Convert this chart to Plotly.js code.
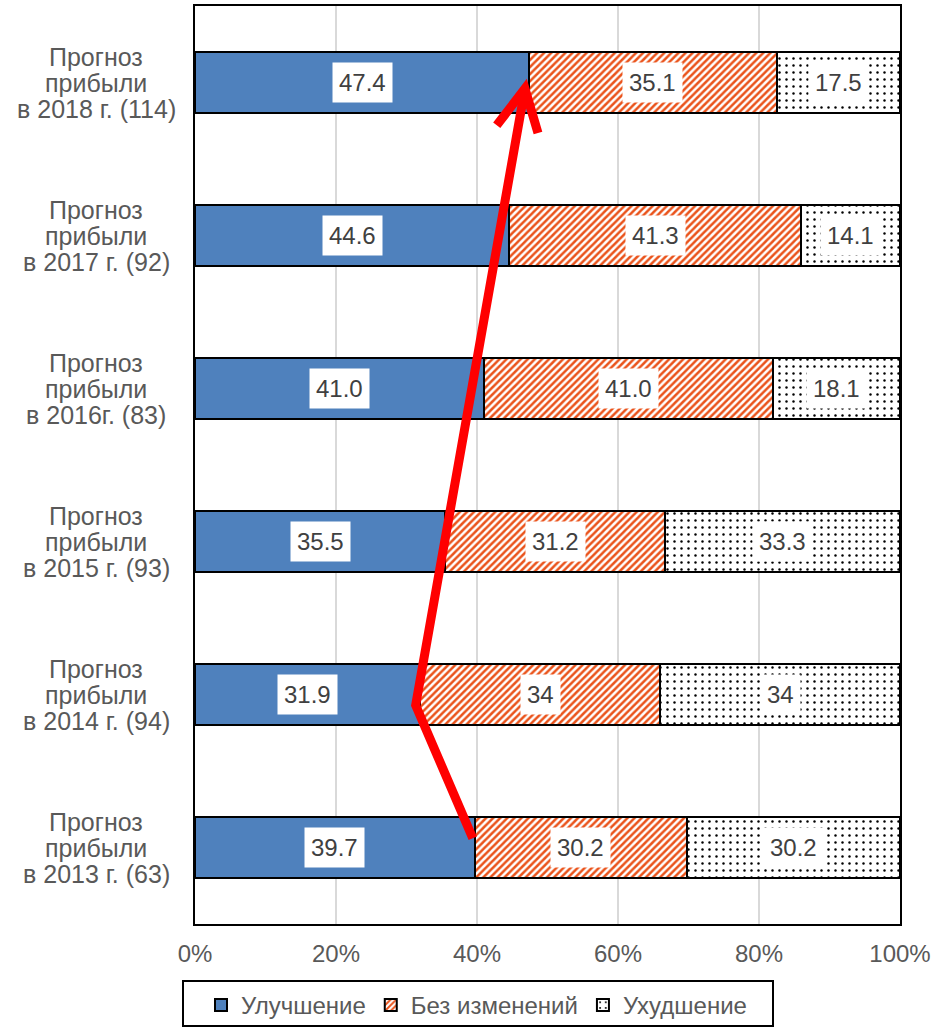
<!DOCTYPE html>
<html>
<head>
<meta charset="utf-8">
<script src="https://cdn.plot.ly/plotly-3.0.1.min.js"></script>
<style>
  html, body { margin: 0; padding: 0; background: #ffffff; }
  #chart { width: 941px; height: 1030px; }
</style>
</head>
<body>
<div id="chart"></div>
<script>
// Survey categories, bottom to top: year of forecast and number of respondents
var yearText = ['в 2013 г. (63)', 'в 2014 г. (94)', 'в 2015 г. (93)', 'в 2016г. (83)', 'в 2017 г. (92)', 'в 2018 г. (114)'];
var catHead = ['Прогноз', 'прибыли'];

// Shares of answers, %
var improve = ['39.7', '31.9', '35.5', '41.0', '44.6', '47.4'];
var noChange = ['30.2', '34', '31.2', '41.0', '41.3', '35.1'];
var worsen = ['30.2', '34', '33.3', '18.1', '14.1', '17.5'];

var seriesNames = ['Улучшение', 'Без изменений', 'Ухудшение'];
var xTicks = [0, 20, 40, 60, 80, 100];

var FONT = 'Liberation Sans, Arial, sans-serif';
var GREY = '#595959';

var num = function (a) { return a.map(Number); };
var series = [num(improve), num(noChange), num(worsen)];
var labels = [improve, noChange, worsen];

var barLine = { color: '#000000', width: 2 };
var markers = [
  { color: '#4F81BD', line: barLine },
  { color: '#ffffff', line: barLine,
    pattern: { shape: '/', fgcolor: '#EA531B', bgcolor: '#ffffff', size: 5, solidity: 0.5 } },
  { color: '#ffffff', line: barLine,
    pattern: { shape: '.', fgcolor: '#000000', bgcolor: '#ffffff', size: 7, solidity: 0.1 } }
];

var traces = series.map(function (vals, k) {
  return {
    type: 'bar',
    orientation: 'h',
    name: seriesNames[k],
    y: yearText,
    x: vals,
    width: 0.4,
    marker: markers[k],
    hoverinfo: 'name+x'
  };
});

// Value labels in white boxes at the centre of each (normalised) segment
var annotations = [];
yearText.forEach(function (cat, i) {
  var total = series[0][i] + series[1][i] + series[2][i];
  var start = 0;
  series.forEach(function (vals, k) {
    var w = vals[i] / total * 100;
    annotations.push({
      x: start + w / 2, y: i, xref: 'x', yref: 'y',
      text: labels[k][i], showarrow: false,
      bgcolor: '#ffffff', borderpad: 6,
      font: { family: FONT, size: 24, color: '#404040' }
    });
    start += w;
  });
  // Category label, three centred lines
  var lines = catHead.concat([cat]);
  lines.forEach(function (ln, j) {
    annotations.push({
      x: -0.1404, y: i, xref: 'paper', yref: 'y',
      xanchor: 'center', yanchor: 'middle',
      yshift: (1 - j) * 26,
      text: ln, showarrow: false,
      font: { family: FONT, size: 25, color: GREY }
    });
  });
});

// Red trend arrow linking the ends of the "improvement" bars
var imp = series[0];
var pts = [[imp[0] - 0.3, 0.06], [imp[1] - 0.6, 0.93], [imp[5] - 0.6, 4.96]];
var head = [[42.8, 4.72], [imp[5] - 0.6, 4.96], [48.65, 4.67]];
function toPath(p) {
  return p.map(function (q, i) { return (i ? 'L' : 'M') + q[0] + ',' + q[1]; }).join(' ');
}
var shapes = [
  { type: 'path', xref: 'x', yref: 'y', path: toPath(pts), layer: 'above',
    line: { color: '#FF0000', width: 9 } },
  { type: 'path', xref: 'x', yref: 'y', path: toPath(head), layer: 'above',
    line: { color: '#FF0000', width: 9 } },
  // legend frame
  { type: 'rect', xref: 'paper', yref: 'paper',
    x0: (183 - 195) / 705, x1: (773 - 195) / 705,
    y0: -(1026 - 924) / 918, y1: -(981 - 924) / 918,
    line: { color: '#000000', width: 2 }, fillcolor: 'rgba(0,0,0,0)' }
];

var layout = {
  width: 941, height: 1030,
  margin: { l: 195, r: 41, t: 6, b: 106 },
  paper_bgcolor: '#ffffff', plot_bgcolor: '#ffffff',
  barmode: 'stack', barnorm: 'percent',
  font: { family: FONT, size: 24, color: GREY },
  xaxis: {
    range: [0, 100], tickmode: 'array', tickvals: xTicks,
    ticktext: xTicks.map(function (v) { return v + '%'; }),
    showgrid: true, gridcolor: '#D9D9D9', gridwidth: 2,
    showline: true, mirror: true, linecolor: '#000000', linewidth: 2,
    zeroline: false, ticks: '', ticklabelstandoff: 7, fixedrange: true,
    tickfont: { family: FONT, size: 24, color: GREY }
  },
  yaxis: {
    type: 'category', range: [-0.5, 5.5],
    showline: true, mirror: true, linecolor: '#000000', linewidth: 2,
    showgrid: false, showticklabels: false, ticks: '', fixedrange: true
  },
  showlegend: true,
  legend: {
    orientation: 'h', xref: 'container', yref: 'container',
    x: 201 / 941, xanchor: 'left', y: 47 / 1030, yanchor: 'top',
    traceorder: 'normal',
    bgcolor: 'rgba(0,0,0,0)', borderwidth: 0,
    font: { family: FONT, size: 24, color: GREY }
  },
  annotations: annotations,
  shapes: shapes
};

Plotly.newPlot('chart', traces, layout, { displayModeBar: false, staticPlot: true });
</script>
</body>
</html>
